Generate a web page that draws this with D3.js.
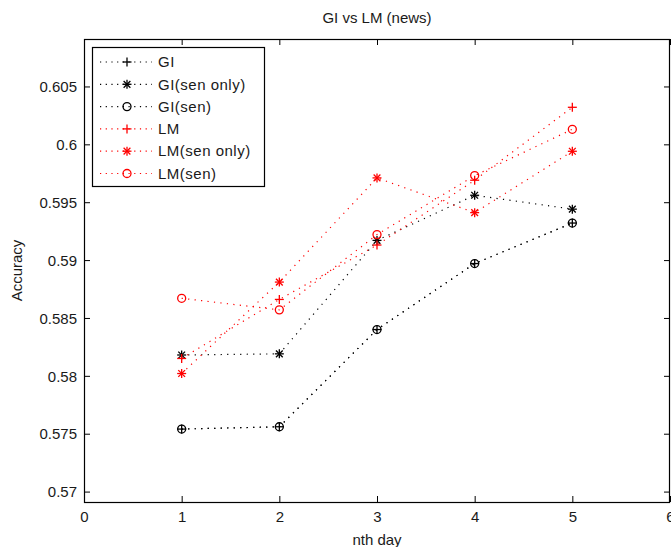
<!DOCTYPE html>
<html>
<head>
<meta charset="utf-8">
<script src="https://cdn.jsdelivr.net/npm/d3@7"></script>
<style>
  body { margin: 0; background: #fff; }
  svg { display: block; }
  text { font-family: "Liberation Sans", Arial, Helvetica, sans-serif; fill: #1a1a1a; }
</style>
</head>
<body>
<svg id="chart" width="671" height="547"></svg>
<script>
// ---- data ----
const days = [1, 2, 3, 4, 5];
const giValues        = [0.5754, 0.5756, 0.5840, 0.5897, 0.5932];
const giSenOnlyValues = [0.5818, 0.5819, 0.5917, 0.5956, 0.5944];
const giSenValues     = [0.5754, 0.5756, 0.5840, 0.5897, 0.5932];
const lmValues        = [0.5815, 0.5866, 0.5913, 0.5969, 0.6032];
const lmSenOnlyValues = [0.5802, 0.5881, 0.5971, 0.5941, 0.5994];
const lmSenValues     = [0.5867, 0.5857, 0.5922, 0.5973, 0.6013];

const seriesNames   = ["GI", "GI(sen only)", "GI(sen)", "LM", "LM(sen only)", "LM(sen)"];
const seriesColors  = ["#000000", "#000000", "#000000", "#ff0000", "#ff0000", "#ff0000"];
const seriesMarkers = ["plus", "star", "circle", "plus", "star", "circle"];
const seriesValues  = [giValues, giSenOnlyValues, giSenValues, lmValues, lmSenOnlyValues, lmSenValues];

const xTicks = [0, 1, 2, 3, 4, 5, 6];
const yTicks = [0.57, 0.575, 0.58, 0.585, 0.59, 0.595, 0.6, 0.605];
const xDomain = [0, 6];
const yDomain = [0.5691, 0.6091];

const titleText = "GI vs LM (news)";
const xLabel = "nth day";
const yLabel = "Accuracy";

// ---- layout ----
const L = 84, R = 670, T = 39, B = 502;
const svg = d3.select("#chart");
const x = d3.scaleLinear().domain(xDomain).range([L, R]);
const y = d3.scaleLinear().domain(yDomain).range([B, T]);
const FS = 15;

// axes
const tick = 6;
const fmtY = v => String(+v.toFixed(3));

const gB = svg.append("g").attr("transform", `translate(0,${B})`)
  .call(d3.axisBottom(x).tickValues(xTicks).tickSizeInner(-tick).tickSizeOuter(0).tickPadding(9).tickFormat(d3.format("d")));
const gT = svg.append("g").attr("transform", `translate(0,${T})`)
  .call(d3.axisTop(x).tickValues(xTicks).tickSizeInner(-tick).tickSizeOuter(0).tickFormat(""));
const gL = svg.append("g").attr("transform", `translate(${L},0)`)
  .call(d3.axisLeft(y).tickValues(yTicks).tickSizeInner(-tick).tickSizeOuter(0).tickPadding(7).tickFormat(fmtY));
const gR = svg.append("g").attr("transform", `translate(${R},0)`)
  .call(d3.axisRight(y).tickValues(yTicks).tickSizeInner(-tick).tickSizeOuter(0).tickFormat(""));

[gB, gT, gL, gR].forEach(g => {
  g.selectAll(".domain").remove();
  g.selectAll(".tick line").attr("stroke", "#000").attr("stroke-width", 1);
  g.selectAll(".tick text").attr("font-size", FS).attr("font-family", "Liberation Sans, Arial, sans-serif").attr("fill", "#1a1a1a");
});
gL.selectAll(".tick text").attr("dy", "0.35em");
gB.selectAll(".tick text").attr("dy", "0.71em");

// box
svg.append("rect").attr("x", L + 0.5).attr("y", T + 0.5).attr("width", R - L - 1).attr("height", B - T)
  .attr("fill", "none").attr("stroke", "#000").attr("stroke-width", 1.2);

// marker drawing
function drawMarker(g, type, cx, cy, color) {
  const s = 4.5;
  if (type === "plus" || type === "star") {
    g.append("line").attr("x1", cx - s).attr("x2", cx + s).attr("y1", cy).attr("y2", cy).attr("stroke", color).attr("stroke-width", 1.3);
    g.append("line").attr("x1", cx).attr("x2", cx).attr("y1", cy - s).attr("y2", cy + s).attr("stroke", color).attr("stroke-width", 1.3);
  }
  if (type === "star") {
    const d = s * 0.75;
    g.append("line").attr("x1", cx - d).attr("x2", cx + d).attr("y1", cy - d).attr("y2", cy + d).attr("stroke", color).attr("stroke-width", 1.3);
    g.append("line").attr("x1", cx - d).attr("x2", cx + d).attr("y1", cy + d).attr("y2", cy - d).attr("stroke", color).attr("stroke-width", 1.3);
  }
  if (type === "circle") {
    g.append("circle").attr("cx", cx).attr("cy", cy).attr("r", 4).attr("fill", "none").attr("stroke", color).attr("stroke-width", 1.3);
  }
}

// series
const line = d3.line().x((d, i) => x(days[i])).y(d => y(d));
const plot = svg.append("g");
seriesValues.forEach((vals, k) => {
  plot.append("path").datum(vals).attr("d", line)
    .attr("fill", "none").attr("stroke", seriesColors[k]).attr("stroke-width", 1.2)
    .attr("stroke-dasharray", "1.2,5.3");
});
seriesValues.forEach((vals, k) => {
  vals.forEach((v, i) => drawMarker(plot, seriesMarkers[k], x(days[i]), y(v), seriesColors[k]));
});

// legend
const lg = svg.append("g");
lg.append("rect").attr("x", 92.5).attr("y", 47.5).attr("width", 172).attr("height", 139)
  .attr("fill", "#fff").attr("stroke", "#000").attr("stroke-width", 1.2);
seriesNames.forEach((name, k) => {
  const yy = 62 + k * 22.3;
  lg.append("line").attr("x1", 100).attr("x2", 152).attr("y1", yy).attr("y2", yy)
    .attr("stroke", seriesColors[k]).attr("stroke-width", 1.2).attr("stroke-dasharray", "1.2,4.5");
  drawMarker(lg, seriesMarkers[k], 127, yy, seriesColors[k]);
  lg.append("text").attr("x", 158).attr("y", yy).attr("dy", "0.35em")
    .attr("font-size", FS).attr("letter-spacing", "0.5").text(name);
});

// title and labels
svg.append("text").attr("x", (L + R) / 2).attr("y", 23).attr("text-anchor", "middle").attr("font-size", FS).text(titleText);
svg.append("text").attr("x", (L + R) / 2).attr("y", 545).attr("text-anchor", "middle").attr("font-size", FS).text(xLabel);
svg.append("text").attr("transform", `translate(22,${(T + B) / 2}) rotate(-90)`).attr("text-anchor", "middle").attr("font-size", FS).text(yLabel);
</script>
</body>
</html>
